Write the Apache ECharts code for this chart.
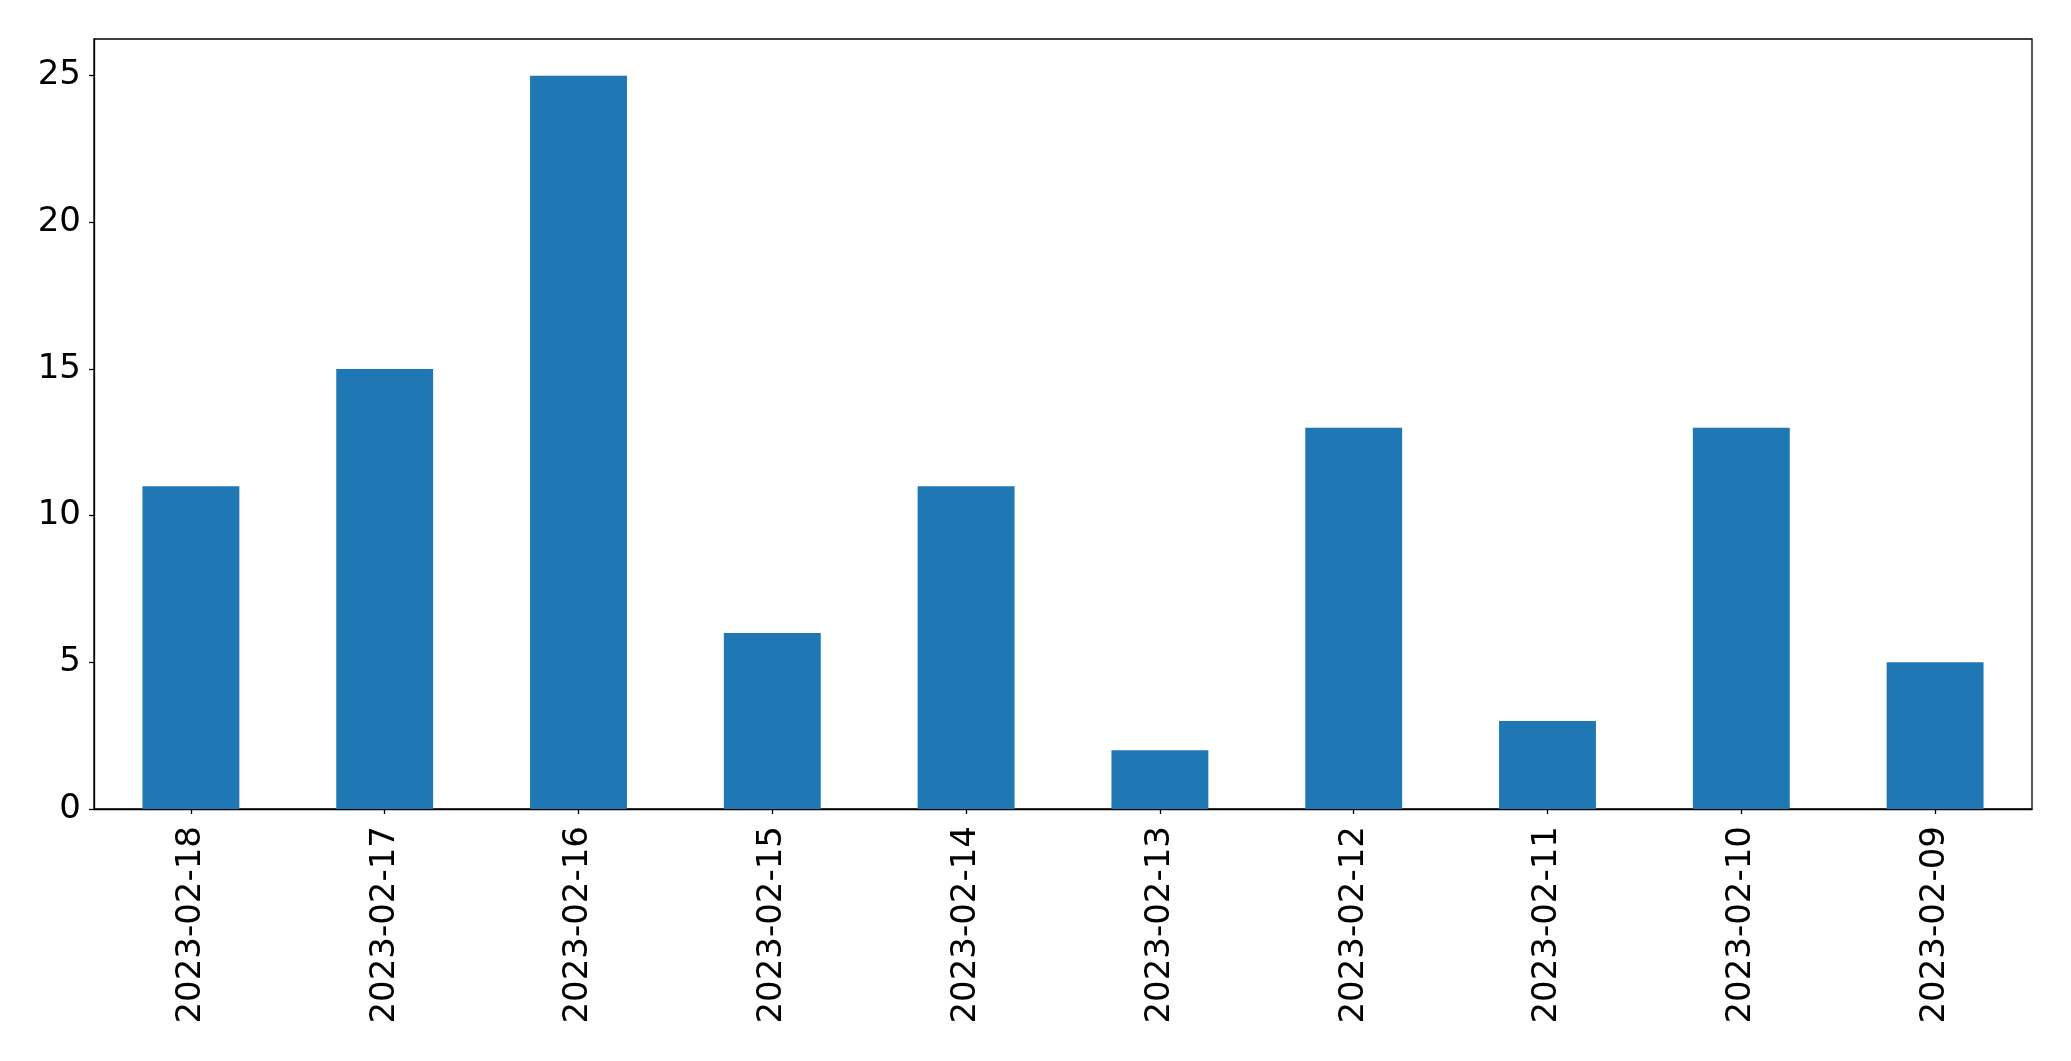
<!DOCTYPE html>
<html>
<head>
<meta charset="utf-8">
<script src="https://cdn.jsdelivr.net/npm/echarts@6/dist/echarts.min.js"></script>
<style>
html,body{margin:0;padding:0;background:#fff;}
#chart{width:2071px;height:1061px;}
</style>
</head>
<body>
<div id="chart"></div>
<script>
const categories = ["2023-02-18","2023-02-17","2023-02-16","2023-02-15","2023-02-14","2023-02-13","2023-02-12","2023-02-11","2023-02-10","2023-02-09"];
const values = [11, 15, 25, 6, 11, 2, 13, 3, 13, 5];
const yTicks = [0, 5, 10, 15, 20, 25];

const chart = echarts.init(document.getElementById('chart'), null, {renderer: 'canvas'});
const font = 'DejaVu Sans';
chart.setOption({
  animation: false,
  backgroundColor: '#ffffff',
  grid: {
    left: 94, top: 39, right: 39, bottom: 252,
    show: true, borderColor: '#000', borderWidth: 1.3, backgroundColor: 'transparent'
  },
  xAxis: {
    type: 'category',
    data: categories,
    axisLine: {show: true, lineStyle: {color: '#000', width: 1.3}},
    axisTick: {show: true, alignWithLabel: true, length: 5, lineStyle: {color: '#000', width: 1.3}},
    axisLabel: {rotate: 90, margin: 17, fontFamily: font, fontSize: 34, color: '#000'},
    splitLine: {show: false}
  },
  yAxis: {
    type: 'value',
    min: 0, max: 26.25,
    axisLine: {show: true, lineStyle: {color: '#000', width: 1.3}},
    axisTick: {show: true, length: 5, customValues: yTicks, lineStyle: {color: '#000', width: 1.3}},
    axisLabel: {margin: 13, fontFamily: font, fontSize: 34, color: '#000', customValues: yTicks},
    splitLine: {show: false}
  },
  series: [{
    type: 'bar',
    data: values,
    barWidth: '50%',
    itemStyle: {color: '#1f77b4'}
  }]
});
</script>
</body>
</html>
